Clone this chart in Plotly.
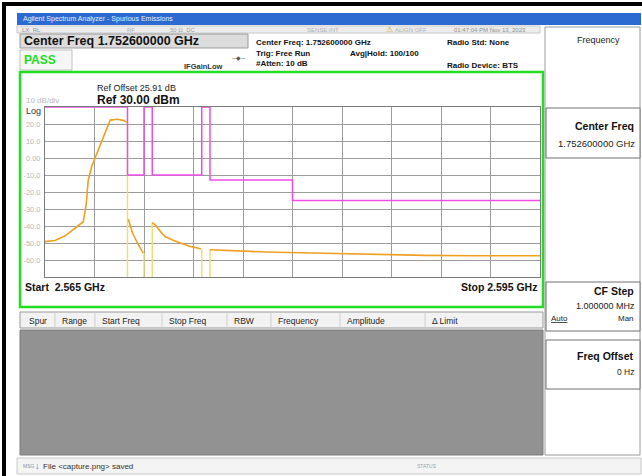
import plotly.graph_objects as go

# spectrum trace, MHz / dBm (None = gap between measurement ranges)
trace_freq = [2565.0, 2565.6, 2566.2, 2566.8, 2567.32, 2567.5, 2567.62, 2567.83, 2568.03, 2568.44,
              2568.84, 2568.95, 2569.4, 2569.8, 2569.95, None,
              2570.05, 2570.3, 2570.6, 2570.95, None,
              2571.5, 2571.7, 2572.0, 2572.3, 2572.8, 2573.3, 2573.8, 2574.3, 2574.45, None,
              2575.0, 2576.4, 2578.4, 2580.5, 2582.5, 2585.0, 2588.0, 2591.0, 2595.0]
trace_dbm = [-49.2, -48.5, -45.9, -41.4, -37.5, -27.0, -13.0, -5.0, 0.0, 10.6,
             20.4, 22.3, 22.8, 22.0, 21.0, None,
             -36.0, -44.0, -50.0, -56.0, None,
             -38.0, -39.5, -43.3, -46.3, -48.5, -50.2, -52.0, -53.1, -53.5, None,
             -54.0, -54.7, -55.3, -55.7, -56.2, -56.8, -57.3, -57.5, -57.5]

# range edges where the trace drops off the bottom of the screen
dip_freq = [2570.0, 2571.0, 2571.5, 2574.5, 2575.0]
dip_top = [21.0, -56.0, -38.0, -53.5, -54.0]

# spurious emission limit line (step)
limit_freq = [2565.0, 2570.0, 2571.0, 2571.5, 2574.5, 2575.0, 2580.0, 2595.0]
limit_dbm = [30.0, -10.0, 30.0, -10.0, 30.0, -13.0, -25.0, -25.0]

ytick_vals = [20, 10, 0, -10, -20, -30, -40, -50, -60]
ytick_text = ["20.0", "10.0", "0.00", "-10.0", "-20.0", "-30.0", "-40.0", "-50.0", "-60.0"]

table_cols = ["Spur", "Range", "Start Freq", "Stop Freq", "RBW", "Frequency", "Amplitude", "\u0394 Limit"]
table_col_x = [27, 60, 100, 167, 232, 276, 345, 430]

W, H = 642, 476
L, R, T, B = 45, 540, 107, 277  # plot area in pixels


def px(x):
    return (x - L) / (R - L)


def py(y):
    return (B - y) / (B - T)


FONT = "Liberation Sans"

fig = go.Figure()

dip_x, dip_y = [], []
for f, top in zip(dip_freq, dip_top):
    dip_x += [f, f, None]
    dip_y += [top, -70, None]

fig.add_trace(go.Scatter(x=dip_x, y=dip_y, mode="lines",
                         line=dict(color="#f1dc6a", width=1.4), hoverinfo="skip"))
fig.add_trace(go.Scatter(x=limit_freq, y=limit_dbm, mode="lines", line_shape="hv",
                         line=dict(color="#f04be8", width=1.5)))
fig.add_trace(go.Scatter(x=trace_freq, y=trace_dbm, mode="lines",
                         line=dict(color="#f0a020", width=1.6)))

shapes = []


def rect(x0, y0, x1, y1, fill, line="rgba(0,0,0,0)", lw=1):
    shapes.append(dict(type="rect", xref="paper", yref="paper", layer="below",
                       x0=px(x0), x1=px(x1), y0=py(y1), y1=py(y0),
                       fillcolor=fill, line=dict(color=line, width=lw)))


def vline(x, y0, y1, color, lw=1):
    shapes.append(dict(type="line", xref="paper", yref="paper", layer="below",
                       x0=px(x), x1=px(x), y0=py(y0), y1=py(y1),
                       line=dict(color=color, width=lw)))


# outer frame (black edges top and left)
rect(2, 2, 642, 6, "#000000", lw=0)
rect(2, 2, 6, 476, "#000000", lw=0)
# title bar
rect(17, 13, 641, 25, "#2b6ad0")
# status row
rect(17, 26, 540, 33, "#ececec", "#c8c8c8")
# center freq box and PASS box
rect(20, 34, 248, 48, "#dcdcdc", "#9a9a9a")
rect(20, 50, 72, 70, "#f6f6f6", "#c0c0c0")
# measurement window (green)
rect(20, 72, 543, 307, "rgba(0,0,0,0)", "#22dd22", 2.5)
# table header and grey table body
rect(20, 312, 543, 328, "#f2f2f2", "#9a9a9a")
for cx in table_col_x[1:]:
    vline(cx - 5, 313, 327, "#d0d0d0")
rect(20, 330, 543, 455, "#929292", "#7a7a7a")
# right soft-key panel
rect(545, 27, 640, 455, "#ffffff", "#9a9a9a")
rect(546, 108, 640, 158, "#ffffff", "#707070")
rect(546, 282, 640, 331, "#ffffff", "#707070")
rect(546, 340, 640, 389, "#ffffff", "#707070")
# status bar
rect(17, 458, 641, 474, "#f4f4f4", "#c8c8c8")

ann = []


def text(x, y, s, size=9, color="#111111", bold=False, anchor="left"):
    if bold:
        s = "<b>" + s + "</b>"
    ann.append(dict(x=px(x), y=py(y), xref="paper", yref="paper", text=s, showarrow=False,
                    xanchor=anchor, yanchor="middle",
                    font=dict(family=FONT, size=size, color=color)))


text(21, 19, "Agilent Spectrum Analyzer - Spurious Emissions", 7, "#e8f0ff")
text(20, 29.5, "LX  RL", 6, "#909090")
text(125, 29.5, "RF", 6, "#b0b0b0")
text(168, 29.5, "50 \u03a9  DC", 6, "#a0a0a0")
text(305, 29.5, "SENSE:INT", 6, "#b0b0b0")
text(384, 29.5, "\u26a0", 8, "#d8a000")
text(393, 29.5, "ALIGN OFF", 6, "#b0b0b0")
text(452, 29.5, "01:47:04 PM Nov 13, 2023", 6, "#909090")
text(22, 41, "Center Freq 1.752600000 GHz", 12.5, "#111111", True)
text(22, 60, "PASS", 12, "#22dd22", True)
text(229, 58, "\u2500\u25c6\u2500", 6, "#555555")
text(182, 66, "IFGainLow", 7.5, "#333333", True)
text(254, 42, "Center Freq: 1.752600000 GHz", 8, "#111111", True)
text(254, 53, "Trig: Free Run", 8, "#111111", True)
text(254, 63, "#Atten: 10 dB", 8, "#111111", True)
text(348, 53, "Avg|Hold: 100/100", 8, "#111111", True)
text(445, 42, "Radio Std: None", 8, "#111111", True)
text(445, 65, "Radio Device: BTS", 8, "#111111", True)

text(95, 88, "Ref Offset 25.91 dB", 9, "#222222")
text(95, 100, "Ref 30.00 dBm", 12, "#111111", True)
text(24, 101, "10 dB/div", 8, "#b8b8b8")
text(24, 111, "Log", 9, "#333333")
text(23, 287, "Start  2.565 GHz", 10.5, "#111111", True)
text(539, 287, "Stop 2.595 GHz", 10.5, "#111111", True, "right")

for name, cx in zip(table_cols, table_col_x):
    text(cx, 321, name, 8.5, "#222222")

text(598, 40, "Frequency", 9, "#222222", anchor="center")
text(636, 126, "Center Freq", 10.5, "#111111", True, "right")
text(637, 143, "1.752600000 GHz", 9.5, "#222222", anchor="right")
text(636, 291, "CF Step", 10.5, "#111111", True, "right")
text(637, 306, "1.000000 MHz", 9, "#222222", anchor="right")
text(549, 318, "<u>Auto</u>", 8, "#222222")
text(636, 318, "Man", 8, "#222222", anchor="right")
text(636, 356, "Freq Offset", 10.5, "#111111", True, "right")
text(636, 372, "0 Hz", 8.5, "#222222", anchor="right")

text(21, 466, "MSG", 5, "#909090")
text(33, 466, "\u2193", 9, "#2b6ad0", True)
text(41, 466, "File <capture.png> saved", 8, "#333333")
text(415, 466, "STATUS", 5, "#a0a0a0")

fig.update_layout(
    width=W, height=H, autosize=False,
    margin=dict(l=L, r=W - R, t=T, b=H - B, autoexpand=False),
    paper_bgcolor="#ffffff", plot_bgcolor="#ffffff",
    showlegend=False,
    shapes=shapes, annotations=ann,
    xaxis=dict(range=[2565, 2595], dtick=3, tick0=2565, showticklabels=False, ticks="",
               showgrid=True, gridcolor="#9c9c9c", gridwidth=1, zeroline=False,
               showline=True, linecolor="#7a7a7a", linewidth=1, mirror=True),
    yaxis=dict(range=[-70, 30], tickvals=ytick_vals, ticktext=ytick_text, ticks="",
               tickfont=dict(family=FONT, size=7.5, color="#b8b8b8"), ticklabelstandoff=2,
               showgrid=True, gridcolor="#9c9c9c", gridwidth=1, zeroline=False,
               showline=True, linecolor="#7a7a7a", linewidth=1, mirror=True),
)

# page body has a default margin; drop it so the figure sits at the window corner
fig.write_html("out.html", config={"displayModeBar": False},
               post_script="document.body.style.margin='0';")
